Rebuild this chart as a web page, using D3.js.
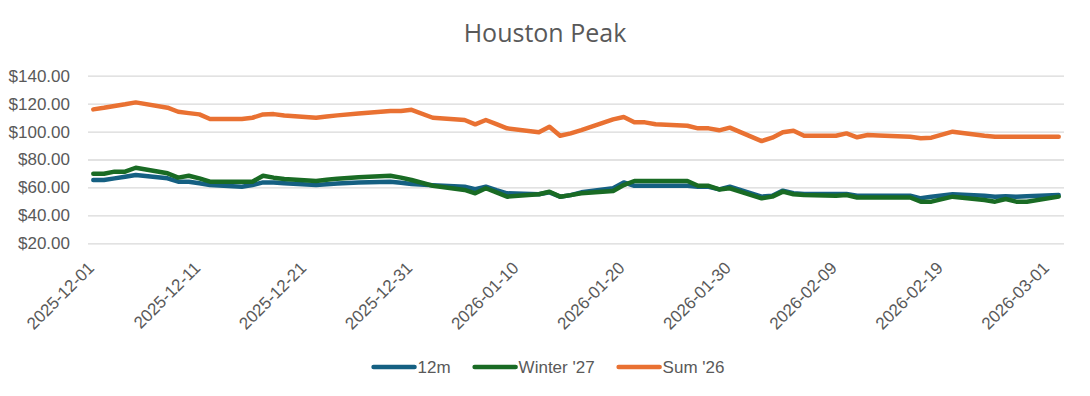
<!DOCTYPE html>
<html>
<head>
<meta charset="utf-8">
<script src="https://cdn.jsdelivr.net/npm/d3@7"></script>
<style>
  body { margin: 0; background: #fff; }
  svg text { fill: #595959; font-family: "Liberation Sans", Arial, sans-serif; }
</style>
</head>
<body>
<svg id="chart" width="1090" height="396"></svg>
<script>
// trading days (Dec 25 / Jan 1 left out)
var dates = [
  "2025-12-01","2025-12-02","2025-12-03","2025-12-04","2025-12-05",
  "2025-12-08","2025-12-09","2025-12-10","2025-12-11","2025-12-12",
  "2025-12-15","2025-12-16","2025-12-17","2025-12-18","2025-12-19",
  "2025-12-22","2025-12-23","2025-12-24","2025-12-26",
  "2025-12-29","2025-12-30","2025-12-31","2026-01-02",
  "2026-01-05","2026-01-06","2026-01-07","2026-01-08","2026-01-09",
  "2026-01-12","2026-01-13","2026-01-14","2026-01-15","2026-01-16",
  "2026-01-19","2026-01-20","2026-01-21","2026-01-22","2026-01-23",
  "2026-01-26","2026-01-27","2026-01-28","2026-01-29","2026-01-30",
  "2026-02-02","2026-02-03","2026-02-04","2026-02-05","2026-02-06",
  "2026-02-09","2026-02-10","2026-02-11","2026-02-12","2026-02-13",
  "2026-02-16","2026-02-17","2026-02-18","2026-02-19","2026-02-20",
  "2026-02-23","2026-02-24","2026-02-25","2026-02-26","2026-02-27",
  "2026-03-02"
];

var twelveMonth = [
  65.3,65.3,66.5,67.7,68.9,
  66.5,64.1,64.1,63.0,61.7,
  60.5,61.7,63.6,63.6,63.0,
  61.7,62.3,62.8,63.5,
  64.1,63.4,62.5,61.5,
  60.5,58.8,60.5,58.0,55.8,
  55.1,56.5,53.4,54.5,56.5,
  59.4,63.6,61.2,61.2,61.2,
  61.2,60.5,60.5,58.6,60.5,
  53.4,54.1,57.7,55.8,55.3,
  55.3,55.3,54.1,54.1,54.1,
  54.1,52.2,53.4,54.2,55.1,
  54.0,53.4,53.6,53.4,53.6,
  54.6
];

var winter27 = [
  69.8,69.8,71.3,71.3,74.1,
  70.1,67.0,68.4,66.5,64.1,
  64.1,64.1,68.4,67.0,66.0,
  64.6,65.5,66.3,67.3,
  68.4,67.0,65.3,61.2,
  58.2,55.8,59.4,56.4,53.4,
  55.1,56.9,53.4,54.5,55.8,
  57.4,61.7,64.6,64.6,64.6,
  64.6,61.2,61.2,58.6,59.4,
  52.2,53.4,57.0,55.1,54.6,
  54.1,54.6,52.8,52.8,52.8,
  52.8,49.8,49.8,51.6,53.4,
  51.0,49.8,51.7,49.8,49.8,
  53.4
];

var sum26 = [
  115.9,117.0,118.3,119.5,120.9,
  117.1,114.2,113.2,112.3,109.0,
  109.0,109.9,112.3,112.5,111.5,
  109.9,110.8,111.6,113.0,
  114.7,114.7,115.6,109.9,
  108.3,105.2,108.3,105.3,102.3,
  99.5,103.5,97.0,98.7,101.0,
  108.7,110.4,106.6,106.6,105.2,
  104.2,102.3,102.3,100.9,102.8,
  93.2,95.6,99.5,100.6,97.0,
  97.0,98.7,95.9,97.5,97.2,
  96.3,95.2,95.6,97.8,99.9,
  97.0,96.3,96.3,96.3,96.3,
  96.3
];

var seriesNames = ["12m", "Winter '27", "Sum '26"];
var seriesColors = ["#156082", "#196B24", "#E97132"];
var yTicks = [20, 40, 60, 80, 100, 120, 140];
var xTickLabels = ["2025-12-01","2025-12-11","2025-12-21","2025-12-31","2026-01-10",
                   "2026-01-20","2026-01-30","2026-02-09","2026-02-19","2026-03-01"];

var parse = d3.timeParse("%Y-%m-%d");
var day = 24 * 3600 * 1000;

var svg = d3.select("#chart");
var plotLeft = 88, plotRight = 1064, plotTop = 75.7, plotBottom = 243.3;

var x = d3.scaleTime()
    .domain([new Date(+parse(dates[0]) - day / 2), new Date(+parse(dates[dates.length - 1]) + day / 2)])
    .range([plotLeft, plotRight]);
var y = d3.scaleLinear().domain([20, 140]).range([plotBottom, plotTop]);

// title
svg.append("text")
    .attr("x", 545).attr("y", 42)
    .attr("text-anchor", "middle")
    .style("font-family", "'Open Sans', 'Noto Sans', sans-serif")
    .style("font-size", "25px")
    .text("Houston Peak");

// gridlines + y labels
var yAxis = d3.axisLeft(y)
    .tickValues(yTicks)
    .tickSize(-(plotRight - plotLeft))
    .tickPadding(18)
    .tickFormat(function(d){ return "$" + d.toFixed(2); });

var gy = svg.append("g").attr("transform", "translate(" + plotLeft + ",0)").call(yAxis);
gy.select(".domain").remove();
gy.selectAll(".tick line").attr("stroke", "#d9d9d9").attr("stroke-width", 1.3);
gy.selectAll(".tick text").style("font-size", "17px").attr("fill", "#595959")
    .style("font-family", "'Liberation Sans', Arial, sans-serif");

// x labels (rotated)
svg.append("g").selectAll("text")
    .data(xTickLabels)
    .enter().append("text")
    .attr("text-anchor", "end")
    .attr("transform", function(d){
        return "translate(" + (x(parse(d)) + 2) + ",269) rotate(-45)";
    })
    .style("font-size", "17px")
    .text(function(d){ return d; });

// lines
var allSeries = [twelveMonth, winter27, sum26];
var line = d3.line()
    .x(function(d, i){ return x(parse(dates[i])); })
    .y(function(d){ return y(d); });

allSeries.forEach(function(vals, k){
    svg.append("path")
        .datum(vals)
        .attr("d", line)
        .attr("fill", "none")
        .attr("stroke", seriesColors[k])
        .attr("stroke-width", 4.5)
        .attr("stroke-linejoin", "round")
        .attr("stroke-linecap", "round");
});

// legend
var lg = svg.append("g");
var cx = 0;
seriesNames.forEach(function(name, k){
    var item = lg.append("g").attr("transform", "translate(" + cx + ",0)");
    item.append("line")
        .attr("x1", 2).attr("x2", 43).attr("y1", 0).attr("y2", 0)
        .attr("stroke", seriesColors[k]).attr("stroke-width", 4.5)
        .attr("stroke-linecap", "round");
    var t = item.append("text")
        .attr("x", 46).attr("y", 6)
        .style("font-size", "17px")
        .text(name);
    cx += 46 + t.node().getComputedTextLength() + 22;
});
var lgWidth = cx - 22;
lg.attr("transform", "translate(" + (548 - lgWidth / 2) + ",367)");
</script>
</body>
</html>
